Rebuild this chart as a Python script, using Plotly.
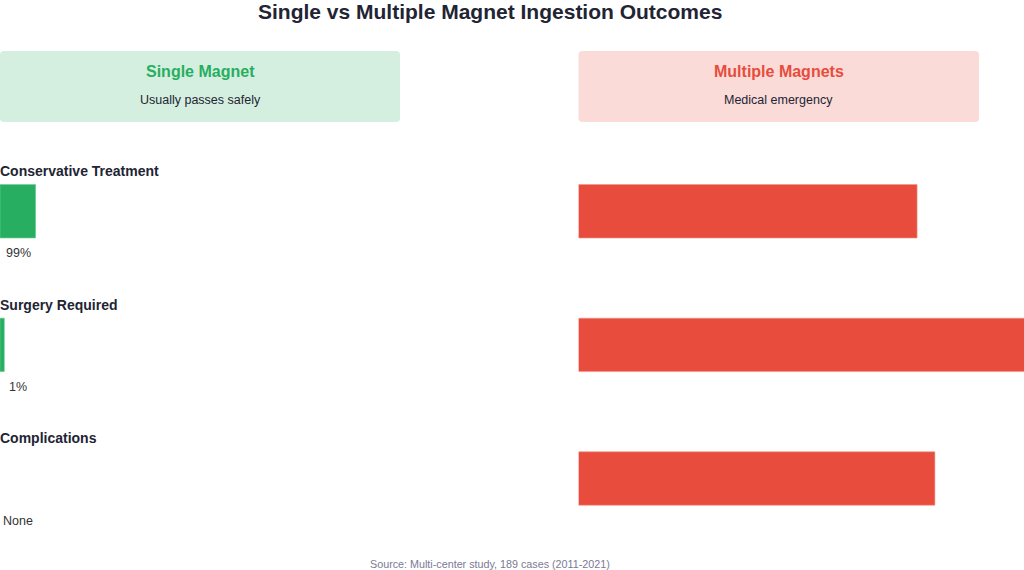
import plotly.graph_objects as go

# ---- data ----
categories = ["Conservative Treatment", "Surgery Required", "Complications"]
single_values = [99, 1, 0]
single_labels = ["99%", "1%", "None"]
multiple_values = [38, 55, 40]
groups = ["Single Magnet", "Multiple Magnets"]
group_notes = ["Usually passes safely", "Medical emergency"]
title_text = "Single vs Multiple Magnet Ingestion Outcomes"
source_text = "Source: Multi-center study, 189 cases (2011-2021)"

W, H = 1024, 570
GREEN = "#27ae60"
RED = "#e74c3c"
DARK = "#222433"
FONT = "Liberation Sans, Arial, sans-serif"

def px_x(p):
    return p / W

def px_y(p):
    return 1 - p / H

# minimum visible width for tiny non-zero values (display only)
MIN_VIS = 12
single_display = [max(v, MIN_VIS) if v > 0 else None for v in single_values]
ypos = list(range(len(categories)))

fig = go.Figure()
fig.add_trace(go.Bar(
    x=single_display, y=ypos, orientation="h", width=0.4,
    marker=dict(color=GREEN, line=dict(color="#6fcf97", width=0.6)),
    xaxis="x", yaxis="y", hoverinfo="skip", showlegend=False,
))
fig.add_trace(go.Bar(
    x=multiple_values, y=ypos, orientation="h", width=0.4,
    marker=dict(color=RED, line=dict(color="#f1948a", width=0.6)),
    xaxis="x2", yaxis="y2", hoverinfo="skip", showlegend=False,
))

yrange = [2.5, -0.46]
ydom = [px_y(545.3), px_y(149.8)]
axis_common = dict(showgrid=False, zeroline=False, showticklabels=False,
                   showline=False, ticks="", fixedrange=True)
fig.update_layout(
    width=W, height=H,
    margin=dict(l=0, r=0, t=0, b=0),
    paper_bgcolor="white", plot_bgcolor="white",
    font=dict(family=FONT, color=DARK),
    xaxis=dict(domain=[0, px_x(36)], range=[0, 100], **axis_common),
    xaxis2=dict(domain=[px_x(578.5), 1.0], range=[0, 50], **axis_common),
    yaxis=dict(domain=ydom, range=yrange, anchor="x", **axis_common),
    yaxis2=dict(domain=ydom, range=yrange, anchor="x2", **axis_common),
)

annotations = []
annotations.append(dict(text=f"<b>{title_text}</b>", x=px_x(489.5), y=px_y(-2),
                        xref="paper", yref="paper", showarrow=False,
                        xanchor="center", yanchor="top",
                        font=dict(size=21, color=DARK, family=FONT)))
boxes = [(0, 400, GREEN, "rgba(39,174,96,0.2)"), (578.5, 979, RED, "rgba(231,76,60,0.2)")]
shapes = []
for (bx0, bx1, col, fill), g, note in zip(boxes, groups, group_notes):
    x0, x1 = px_x(bx0), px_x(bx1)
    y0, y1 = px_y(122), px_y(51)
    rx, ry = 4 / W, 4 / H
    path = (f"M {x0+rx},{y0} L {x1-rx},{y0} Q {x1},{y0} {x1},{y0+ry} L {x1},{y1-ry} "
            f"Q {x1},{y1} {x1-rx},{y1} L {x0+rx},{y1} Q {x0},{y1} {x0},{y1-ry} "
            f"L {x0},{y0+ry} Q {x0},{y0} {x0+rx},{y0} Z")
    shapes.append(dict(type="path", path=path, xref="paper", yref="paper",
                       fillcolor=fill, line=dict(width=0), layer="below"))
    cx = (x0 + x1) / 2
    annotations.append(dict(text=f"<b>{g}</b>", x=cx, y=px_y(72), xref="paper", yref="paper",
                            showarrow=False, xanchor="center", yanchor="middle",
                            font=dict(size=16, color=col, family=FONT)))
    annotations.append(dict(text=note, x=cx, y=px_y(100), xref="paper", yref="paper",
                            showarrow=False, xanchor="center", yanchor="middle",
                            font=dict(size=12.5, color=DARK, family=FONT)))

for i, (cat, lab) in enumerate(zip(categories, single_labels)):
    annotations.append(dict(text=f"<b>{cat}</b>", x=0, xshift=-2, y=i - 0.3, xref="paper", yref="y",
                            showarrow=False, xanchor="left", yanchor="middle",
                            font=dict(size=14, color=DARK, family=FONT)))
    annotations.append(dict(text=lab, x=50, y=i + 0.3, yshift=-2, xref="x", yref="y",
                            showarrow=False, xanchor="center", yanchor="middle",
                            font=dict(size=12.5, color="#333333", family=FONT)))

annotations.append(dict(text=source_text, x=px_x(489.5), y=px_y(564), xref="paper", yref="paper",
                        showarrow=False, xanchor="center", yanchor="middle",
                        font=dict(size=10.75, color="#7a7a95", family=FONT)))

fig.update_layout(annotations=annotations, shapes=shapes)
fig.write_html("out.html",
               config={"displayModeBar": False},
               post_script="document.body.style.margin='0';document.body.style.overflow='hidden';")
